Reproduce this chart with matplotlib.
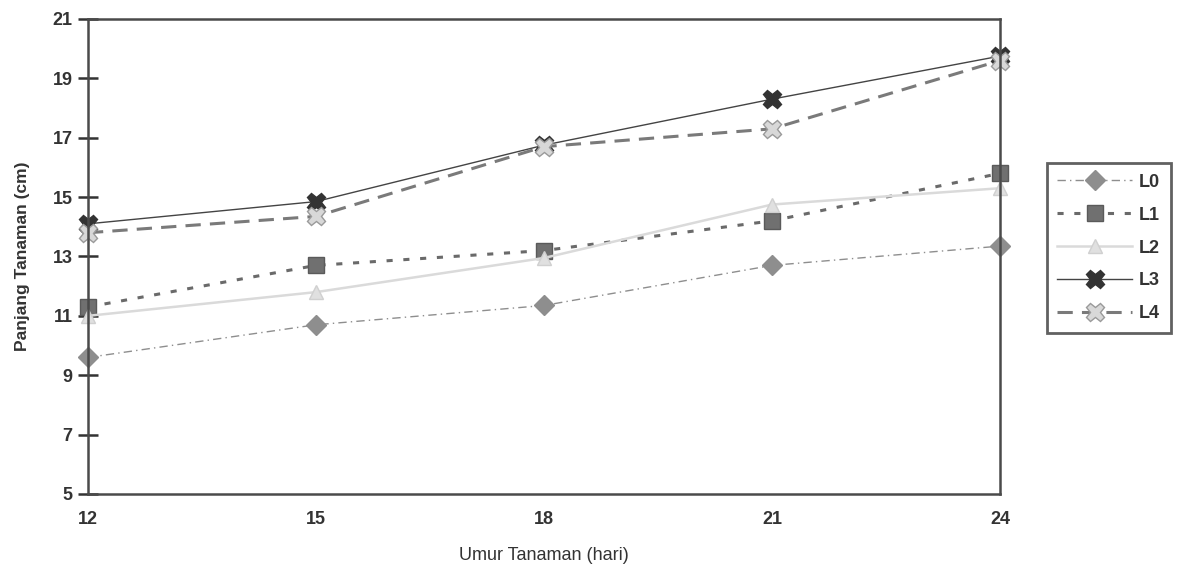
import matplotlib
matplotlib.use("Agg")
import matplotlib.pyplot as plt

plt.rcParams['font.family'] = ['Liberation Sans', 'DejaVu Sans']

umur = [12, 15, 18, 21, 24]
L0 = [9.6, 10.7, 11.35, 12.7, 13.35]
L1 = [11.3, 12.7, 13.2, 14.2, 15.8]
L2 = [11.0, 11.8, 12.95, 14.75, 15.3]
L3 = [14.1, 14.85, 16.75, 18.3, 19.75]
L4 = [13.8, 14.35, 16.7, 17.3, 19.6]
y_ticks = [5, 7, 9, 11, 13, 15, 17, 19, 21]

fig = plt.figure(figsize=(11.84, 5.86), dpi=100)
ax = fig.add_axes([0.0743, 0.157, 0.7703, 0.8106])

ax.plot(umur, L0, color='#8e8e8e', lw=1, ls=(0, (6, 3, 1, 3)), marker='D',
        ms=10, mfc='#8e8e8e', mec='#8e8e8e', label='L0', clip_on=False)
ax.plot(umur, L1, color='#6a6a6a', lw=2.2, ls=(0, (2, 3.5)), marker='s',
        ms=11, mfc='#707070', mec='#5a5a5a', label='L1', clip_on=False)
ax.plot(umur, L2, color='#dadada', lw=1.8, ls='-', marker='^',
        ms=10, mfc='#e0e0e0', mec='#d0d0d0', label='L2', clip_on=False)
ax.plot(umur, L3, color='#444444', lw=1, ls='-', marker='X',
        ms=13, mfc='#333333', mec='#333333', label='L3', clip_on=False)
ax.plot(umur, L4, color='#7a7a7a', lw=2.2, ls=(0, (5, 3)), marker='X',
        ms=13, mfc='#d8d8d8', mec='#9a9a9a', mew=1, label='L4', clip_on=False)

ax.set_xlim(12, 24)
ax.set_ylim(5, 21)
ax.set_xticks(umur)
ax.set_yticks(y_ticks)
ax.tick_params(axis='y', direction='inout', length=14, width=1.8, color='#333333',
               labelsize=13, pad=4)
ax.tick_params(axis='x', direction='inout', length=0, labelsize=13, pad=12)
for lab in ax.get_xticklabels() + ax.get_yticklabels():
    lab.set_fontweight('bold')
    lab.set_color('#333333')

for side in ['left', 'right', 'top', 'bottom']:
    ax.spines[side].set_linewidth(1.8)
    ax.spines[side].set_color('#4a4a4a')

ax.set_xlabel('Umur Tanaman (hari)', fontsize=13, color='#333333', labelpad=14)
ax.set_ylabel('Panjang Tanaman (cm)', fontsize=12.5, fontweight='bold',
              color='#333333', labelpad=16)

leg = fig.legend(loc='upper left', bbox_to_anchor=(0.884, 0.722),
                 borderaxespad=0, prop={'weight': 'bold', 'size': 13},
                 frameon=True, fancybox=False, edgecolor='#3a3a3a',
                 handlelength=4.1, labelspacing=0.88, borderpad=0.6,
                 handletextpad=0.4)
leg.get_frame().set_linewidth(2)
for t in leg.get_texts():
    t.set_color('#333333')

fig.savefig('out.png', dpi=100)
